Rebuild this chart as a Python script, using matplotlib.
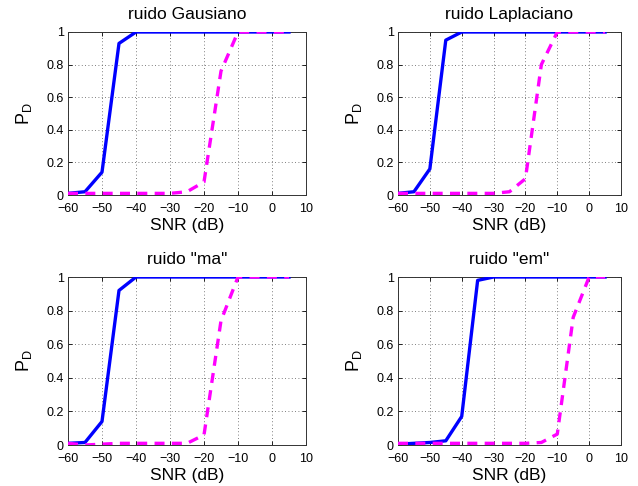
import numpy as np
import matplotlib
matplotlib.use("Agg")
import matplotlib.pyplot as plt

plt.rcParams['font.family'] = ['Liberation Sans', 'DejaVu Sans']
plt.rcParams['mathtext.fontset'] = 'custom'
plt.rcParams['mathtext.rm'] = 'Liberation Sans'

# SNR grid (dB)
snr = [-60, -55, -50, -45, -40, -35, -30, -25, -20, -15, -10, -5, 0, 5]

titles = ['ruido Gausiano', 'ruido Laplaciano', 'ruido "ma"', 'ruido "em"']

# detector 1 (solid blue)
pd_blue_gaus = [0.01, 0.02, 0.14, 0.93, 1, 1, 1, 1, 1, 1, 1, 1, 1, 1]
pd_blue_lap = [0.01, 0.02, 0.16, 0.95, 1, 1, 1, 1, 1, 1, 1, 1, 1, 1]
pd_blue_ma = [0.01, 0.015, 0.14, 0.92, 1, 1, 1, 1, 1, 1, 1, 1, 1, 1]
pd_blue_em = [0.005, 0.01, 0.015, 0.025, 0.17, 0.98, 1, 1, 1, 1, 1, 1, 1, 1]

# detector 2 (dashed magenta)
pd_mag_gaus = [0.01, 0.01, 0.01, 0.01, 0.01, 0.01, 0.01, 0.02, 0.08, 0.76, 1, 1, 1, 1]
pd_mag_lap = [0.01, 0.01, 0.01, 0.01, 0.01, 0.01, 0.01, 0.02, 0.1, 0.8, 1, 1, 1, 1]
pd_mag_ma = [0.01, 0.0, 0.005, 0.01, 0.01, 0.01, 0.01, 0.01, 0.06, 0.74, 1, 1, 1, 1]
pd_mag_em = [0.01, 0.01, 0.01, 0.01, 0.01, 0.01, 0.01, 0.01, 0.01, 0.015, 0.065, 0.76, 1, 1]

blues = [pd_blue_gaus, pd_blue_lap, pd_blue_ma, pd_blue_em]
mags = [pd_mag_gaus, pd_mag_lap, pd_mag_ma, pd_mag_em]

W, H = 638, 486
fig = plt.figure(figsize=(W / 100, H / 100), dpi=100)

# axes boxes in pixels: (left, right, top, bottom)
boxes = [(68, 306, 32, 195), (398, 621, 32, 195),
         (68, 306, 277, 445), (398, 621, 277, 445)]

for box, t, b, m in zip(boxes, titles, blues, mags):
    l, r, top, bot = box
    ax = fig.add_axes([l / W, 1 - bot / H, (r - l) / W, (bot - top) / H])
    ax.plot(snr, b, color='#0000ff', lw=2.4, zorder=3)
    ax.plot(snr, m, color='#ff00ff', lw=2.4, ls=(0, (3, 2.2)), zorder=3)
    ax.set_xlim(-60, 10)
    ax.set_ylim(0, 1)
    ax.set_xticks(range(-60, 11, 10))
    ax.set_yticks([0, 0.2, 0.4, 0.6, 0.8, 1])
    ax.set_yticklabels(['0', '0.2', '0.4', '0.6', '0.8', '1'])
    ax.grid(True, color='#555555', ls=(0, (1, 3)), lw=0.6)
    ax.tick_params(direction='in', length=3, labelsize=9, pad=3,
                   top=True, right=True, width=0.6)
    ax.tick_params(axis='x', pad=6)
    for s in ax.spines.values():
        s.set_linewidth(0.7)
        s.set_color('#333333')
    ax.set_title(t, fontsize=12.5, pad=9)
    ax.set_xlabel('SNR (dB)', fontsize=12.5, labelpad=2)
    ax.set_ylabel(r'$\mathregular{P_D}$', fontsize=13, labelpad=9)

fig.savefig('out.png', dpi=100)
